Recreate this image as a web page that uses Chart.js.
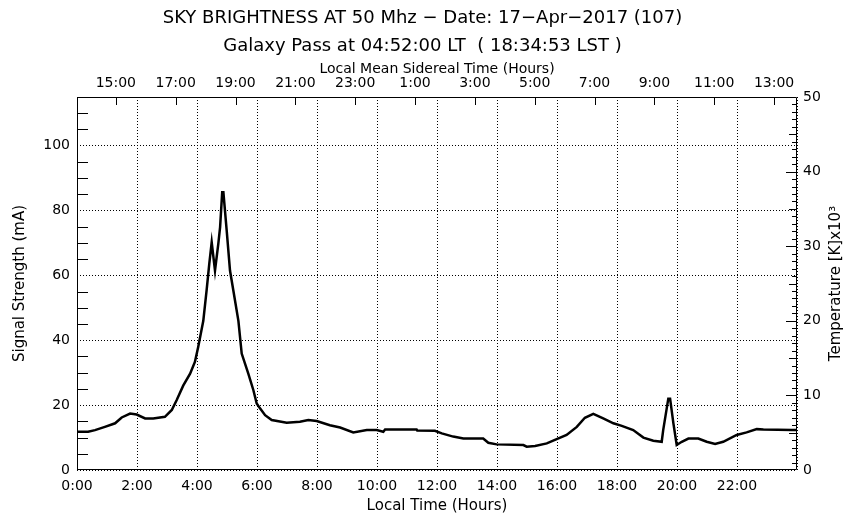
<!DOCTYPE html>
<html>
<head>
<meta charset="utf-8">
<title>Sky brightness at 50 MHz</title>
<script src="https://cdn.jsdelivr.net/npm/chart.js@4.4.1/dist/chart.umd.min.js"></script>
<style>
    body { margin: 0; background: #fff; }
    canvas { display: block; }
</style>
</head>
<body>
<canvas id="skyChart" width="845" height="521"></canvas>
<script>
// Local time (hours) and signal strength (mA)
const localTime = [0.0, 0.37, 0.6, 0.93, 1.27, 1.49, 1.77, 1.99, 2.27, 2.54, 2.93, 3.16, 3.32, 3.54, 3.77, 3.93,
    4.04, 4.21, 4.32, 4.41, 4.49, 4.6, 4.71, 4.77, 4.84, 4.88, 4.99, 5.1, 5.21, 5.38, 5.49, 5.71, 5.88, 5.99,
    6.1, 6.27, 6.49, 6.99, 7.43, 7.71, 7.99, 8.43, 8.77, 9.21, 9.66, 9.99, 10.21, 10.27, 11.32, 11.34, 11.93,
    12.16, 12.54, 12.88, 13.54, 13.71, 13.99, 14.88, 14.99, 15.27, 15.66, 15.99, 16.32, 16.66, 16.93, 17.21,
    17.54, 17.88, 18.16, 18.54, 18.88, 19.21, 19.49, 19.54, 19.71, 19.77, 19.88, 19.99, 20.16, 20.38, 20.71,
    20.99, 21.27, 21.54, 21.99, 22.32, 22.66, 22.88, 23.83, 23.98];
const signal = [11.8, 11.8, 12.3, 13.3, 14.4, 16.2, 17.4, 17.1, 15.9, 15.9, 16.4, 18.5, 21.5, 26, 29.7, 33.3,
    37.9, 46, 55.4, 63.6, 70.2, 61.5, 69.7, 74.9, 85.6, 85.6, 73.8, 61.5, 55.4, 46, 35.9, 29.7, 24.6, 20.5,
    19, 16.9, 15.4, 14.6, 14.9, 15.4, 15.1, 13.8, 13.1, 11.6, 12.3, 12.3, 11.8, 12.5, 12.5, 12.2, 12.1,
    11.3, 10.3, 9.7, 9.7, 8.4, 7.9, 7.7, 7.2, 7.4, 8.2, 9.5, 10.8, 13.3, 16.1, 17.3,
    15.9, 14.4, 13.6, 12.3, 10, 9, 8.7, 12.3, 22, 22, 14.4, 7.7, 8.7, 9.7, 9.7,
    8.7, 8, 8.7, 10.8, 11.6, 12.6, 12.5, 12.3, 12.3];

// Top axis: local mean sidereal time tick labels (hours, continuing past 24)
const lstTicks = [15, 17, 19, 21, 23, 25, 27, 29, 31, 33, 35, 37];

// Galaxy pass: 04:52:00 LT = 18:34:53 LST
const siderealRate = 1.0027379;
const lstAtMidnight = 18 + 34 / 60 + 53 / 3600 - (4 + 52 / 60) * siderealRate;

const FONT = 'DejaVu Sans';
Chart.defaults.color = '#000';
Chart.defaults.font.family = FONT;

function hourLabel(v) {
    return (Math.round(v) % 24) + ':00';
}

// frame, inside tick marks and right-hand title
const framePlugin = {
    id: 'frame',
    afterDraw(chart) {
        const { ctx, chartArea: a, scales } = chart;
        ctx.save();
        ctx.strokeStyle = '#000';
        ctx.lineWidth = 1;
        ctx.beginPath();
        ctx.rect(a.left + 0.5, a.top + 0.5, a.right - a.left - 1, a.bottom - a.top - 1);

        // left minor ticks every 5 mA
        for (let v = 5; v <= 110; v += 5) {
            if (v % 20 === 0) continue;
            const y = Math.round(scales.y.getPixelForValue(v)) + 0.5;
            ctx.moveTo(a.left, y);
            ctx.lineTo(a.left + 11, y);
        }
        // right ticks every 1 (x10^3 K)
        for (let v = 1; v < 50; v++) {
            const y = Math.round(scales.y2.getPixelForValue(v)) + 0.5;
            const len = v % 10 === 0 ? 11 : (v % 5 === 0 ? 8 : 5);
            ctx.moveTo(a.right, y);
            ctx.lineTo(a.right - len, y);
        }
        // top sidereal ticks
        for (const t of scales.x2.ticks) {
            const x = Math.round(scales.x2.getPixelForValue(t.value)) + 0.5;
            ctx.moveTo(x, a.top);
            ctx.lineTo(x, a.top + 8);
        }
        ctx.stroke();

        ctx.translate(836, (a.top + a.bottom) / 2);
        ctx.rotate(-Math.PI / 2);
        ctx.font = '15px ' + FONT;
        ctx.fillStyle = '#000';
        ctx.textAlign = 'center';
        ctx.textBaseline = 'middle';
        ctx.fillText('Temperature [K]x10\u00B3', 0, 0);
        ctx.restore();
    }
};

const dotted = { color: '#000', lineWidth: 1, drawTicks: false };

const ctx = document.getElementById('skyChart').getContext('2d');
const skyChart = new Chart(ctx, {
    type: 'line',
    data: {
        datasets: [{
            data: localTime.map((t, i) => ({ x: t, y: signal[i] })),
            borderColor: '#000',
            borderWidth: 2.5,
            pointRadius: 0,
            tension: 0,
            fill: false,
        }]
    },
    options: {
        responsive: false,
        animation: false,
        layout: { padding: 0 },
        plugins: {
            legend: { display: false },
            tooltip: { enabled: false },
            title: {
                display: true,
                text: ['SKY BRIGHTNESS AT 50 Mhz \u2212 Date: 17\u2212Apr\u22122017 (107)',
                    'Galaxy Pass at 04:52:00 LT  ( 18:34:53 LST )'],
                font: { size: 18, weight: 'normal', lineHeight: 28 / 18 },
                padding: { top: 4, bottom: 0 },
            },
        },
        scales: {
            x: {
                type: 'linear',
                position: 'bottom',
                min: 0,
                max: 24,
                border: { display: false, dash: [1, 2] },
                grid: { ...dotted },
                ticks: {
                    stepSize: 2,
                    maxRotation: 0,
                    autoSkip: false,
                    padding: 8,
                    font: { size: 14 },
                    callback: v => (v < 24 ? hourLabel(v) : ''),
                },
                title: {
                    display: true,
                    text: 'Local Time (Hours)',
                    font: { size: 15 },
                    padding: { top: 0, bottom: 6 },
                },
                afterFit: s => { s.height = 51; },
            },
            x2: {
                type: 'linear',
                position: 'top',
                min: lstAtMidnight,
                max: lstAtMidnight + 24 * siderealRate,
                border: { display: false },
                grid: { display: false, drawTicks: false },
                afterBuildTicks: s => { s.ticks = lstTicks.map(v => ({ value: v })); },
                ticks: {
                    maxRotation: 0,
                    autoSkip: false,
                    padding: 5,
                    font: { size: 14 },
                    callback: v => hourLabel(v),
                },
                title: {
                    display: true,
                    text: 'Local Mean Sidereal Time (Hours)',
                    font: { size: 14 },
                    padding: { top: 1, bottom: 0 },
                },
                afterFit: s => { s.height = 37; },
            },
            y: {
                position: 'left',
                min: 0,
                max: 115,
                border: { display: false, dash: [1, 2] },
                grid: { ...dotted },
                ticks: {
                    stepSize: 20,
                    includeBounds: false,
                    padding: 7,
                    font: { size: 14 },
                },
                title: {
                    display: true,
                    text: 'Signal Strength (mA)',
                    font: { size: 15 },
                    padding: { top: 11, bottom: 0 },
                },
                afterFit: s => { s.width = 77; },
            },
            y2: {
                position: 'right',
                min: 0,
                max: 50,
                border: { display: false },
                grid: { display: false, drawTicks: false },
                ticks: {
                    stepSize: 10,
                    padding: 6,
                    font: { size: 14 },
                },
                afterFit: s => { s.width = 48; },
            },
        },
    },
    plugins: [framePlugin]
});
</script>
</body>
</html>
